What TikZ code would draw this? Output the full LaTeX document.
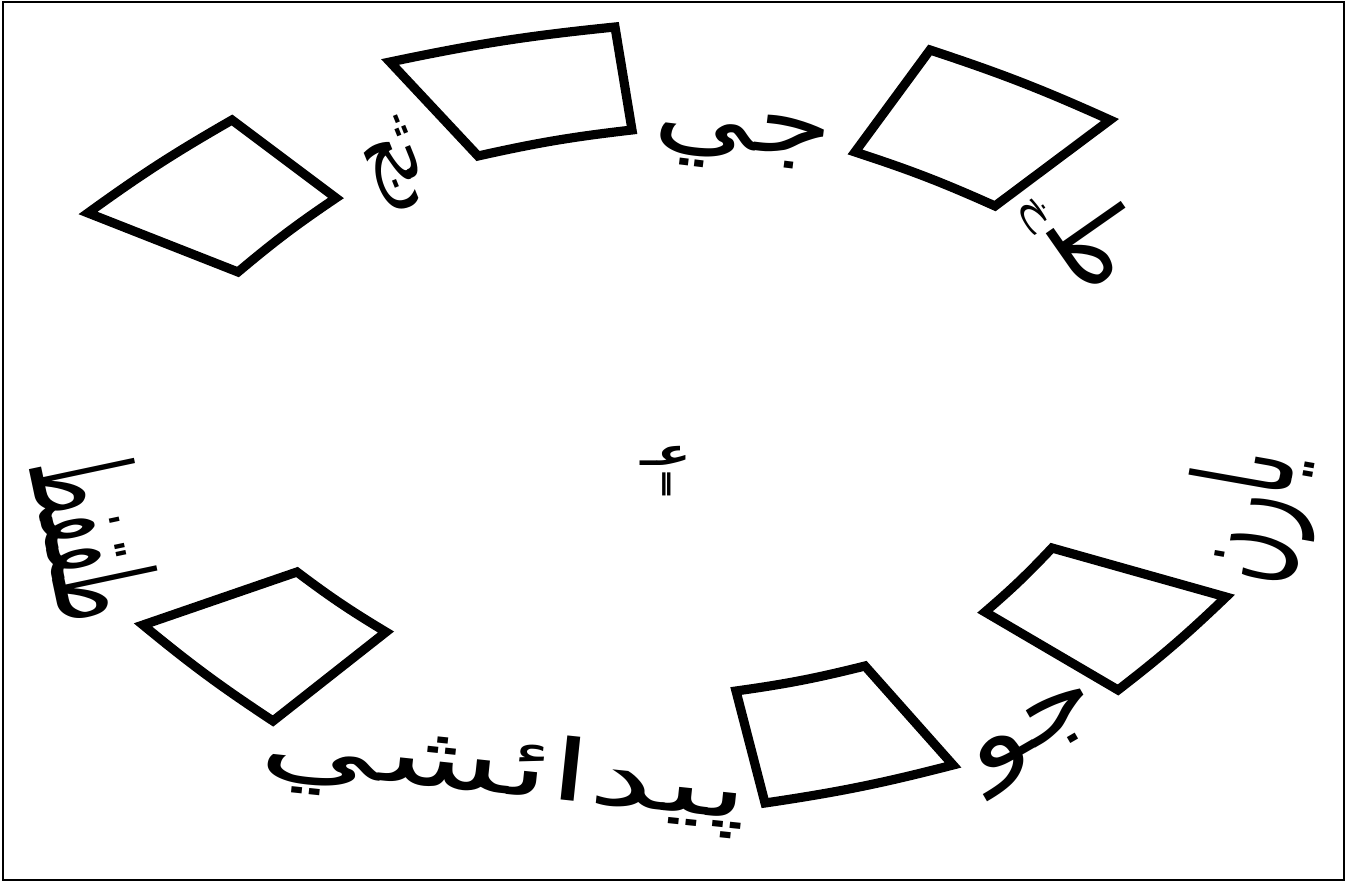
\documentclass[tikz,border=0pt]{standalone}
\usepackage{fontspec}
\usepackage{graphicx}
\newfontfamily\arabicfont[Script=Arabic]{DejaVu Sans}
\TeXXeTstate=1
\newcommand{\ringword}[3]{\resizebox*{#1}{#2}{\arabicfont\beginR #3\endR}}
\tikzset{
  sector/.style={line width=2.6pt, line join=miter},
  outer arc/.style={bend left=3},
  inner arc/.style={bend right=3},
  word/.style={inner sep=0pt, outer sep=0pt},
}

\begin{document}
\begin{tikzpicture}[x=0.01cm, y=-0.01cm]
\useasboundingbox (0,0) rectangle (1352,886);
\draw[line width=0.8pt] (3,2) rectangle (1344,880);
\draw[sector] (88,213) to[outer arc] (232,120) -- (336,198) to[inner arc] (238,272) -- cycle;
\draw[sector] (390,62) to[outer arc] (615,27) -- (632,130) to[inner arc] (478,156) -- cycle;
\draw[sector] (930,50) to[outer arc] (1110,120) -- (995,206) to[inner arc] (855,152) -- cycle;
\draw[sector] (1226,597) to[outer arc] (1118,690) -- (985,612) to[inner arc] (1052,548) -- cycle;
\draw[sector] (953,765) to[outer arc] (765,803) -- (736,691) to[inner arc] (865,666) -- cycle;
\draw[sector] (273,721) to[outer arc] (143,625) -- (297,572) to[inner arc] (386,632) -- cycle;
\node[word, rotate=22] (thaj) at (394,165) {\ringword{0.55cm}{0.9cm}{ثج}};
\node[word, rotate=-7] (jee) at (742,142) {\ringword{1.78cm}{0.6cm}{جي}};
\node[word, rotate=-55] (toe) at (1100,240) {\ringword{0.85cm}{0.8cm}{ط}};
\node[word, rotate=-55] (khe) at (1034,214) {\ringword{0.36cm}{0.26cm}{خ}};
\node[word, rotate=80] (yaar) at (1250,516) {\ringword{1.3cm}{1.35cm}{يارن}};
\node[word, rotate=30] (jo) at (1038,738) {\ringword{1.4cm}{0.6cm}{جو}};
\node[word, rotate=-6] (paidaishi) at (505,772) {\ringword{4.9cm}{0.85cm}{پيدائشي}};
\node[word, rotate=-78] (taqft) at (97,535) {\ringword{1.65cm}{1.05cm}{طقفط}};
\node[word] (hub) at (666,471) {\resizebox*{0.5cm}{0.5cm}{\shortstack{\arabicfont\bfseries\Large عـ\\\arabicfont\bfseries\small ‖}}};
\end{tikzpicture}
\end{document}
